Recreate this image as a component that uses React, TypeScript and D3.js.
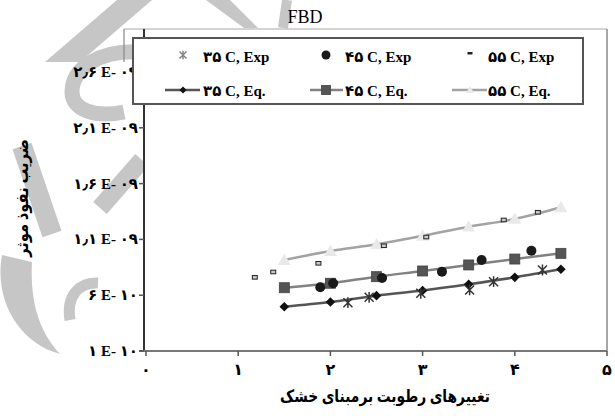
import React from "react";
import * as d3 from "d3";

// Moisture-change positions of the model (Eq.) curves
const xEq = [1.5, 2.0, 2.5, 3.0, 3.5, 4.0, 4.5];
const eq35 = [4.97e-10, 5.39e-10, 5.96e-10, 6.42e-10, 6.98e-10, 7.6e-10, 8.32e-10];
const eq45 = [6.67e-10, 7.07e-10, 7.66e-10, 8.17e-10, 8.71e-10, 9.24e-10, 9.75e-10];
const eq55 = [9.15e-10, 9.96e-10, 1.056e-9, 1.132e-9, 1.214e-9, 1.283e-9, 1.388e-9];

// Experimental points
const xExp35 = [2.19, 2.42, 2.98, 3.51, 3.77, 4.3];
const exp35 = [5.33e-10, 5.81e-10, 6.17e-10, 6.47e-10, 7.21e-10, 8.26e-10];
const xExp45 = [1.89, 2.03, 2.56, 3.21, 3.64, 4.18];
const exp45 = [6.71e-10, 7.07e-10, 7.54e-10, 8.11e-10, 9.15e-10, 9.99e-10];
const xExp55 = [1.18, 1.38, 1.87, 2.58, 3.04, 3.88, 4.25];
const exp55 = [7.6e-10, 8.08e-10, 8.86e-10, 1.043e-9, 1.121e-9, 1.274e-9, 1.343e-9];

const xTicks = [0, 1, 2, 3, 4, 5];
const xTickLabels = ["۰", "۱", "۲", "۳", "۴", "۵"];
const yTicks = [1e-10, 6e-10, 1.1e-9, 1.6e-9, 2.1e-9, 2.6e-9];
const yTickLabels = ["۱ E- ۱۰", "۶ E- ۱۰", "۱٫۱ E- ۰۹", "۱٫۶ E- ۰۹", "۲٫۱ E- ۰۹", "۲٫۶ E- ۰۹"];

const title = "FBD";
const xTitle = "تغییرهای رطوبت برمبنای خشک";
const yTitle = "ضریب نفوذ موثر";
const legendLabels = [
  ["۳۵ C, Exp", "۴۵ C, Exp", "۵۵ C, Exp"],
  ["۳۵ C, Eq.", "۴۵ C, Eq.", "۵۵ C, Eq."],
];

const W = 615;
const H = 416;
const plot = { left: 144, right: 607, top: 29, bottom: 351 };
const FONT = "'Liberation Serif', 'DejaVu Sans', serif";
const MARK = "#c6c6c6";

const x = d3.scaleLinear().domain([0, 5]).range([146, 607]);
const y = d3.scaleLinear().domain([1e-10, 2.6e-9]).range([351, 72]);

const line = d3
  .line<[number, number]>()
  .x((d) => x(d[0]))
  .y((d) => y(d[1]))
  .curve(d3.curveMonotoneX);

const zip = (xs: number[], ys: number[]) => xs.map((v, i) => [v, ys[i]] as [number, number]);

const Star = ({ cx, cy, s, color }: { cx: number; cy: number; s: number; color: string }) => (
  <path
    d={`M${cx - s},${cy - s}L${cx + s},${cy + s}M${cx - s},${cy + s}L${cx + s},${cy - s}M${cx},${cy - s * 1.2}L${cx},${cy + s * 1.2}`}
    stroke={color}
    strokeWidth={1.5}
    fill="none"
  />
);
const Diamond = ({ cx, cy, s }: { cx: number; cy: number; s: number }) => (
  <path d={`M${cx},${cy - s}L${cx + s},${cy}L${cx},${cy + s}L${cx - s},${cy}Z`} fill="#111" />
);
const Square = ({ cx, cy, s }: { cx: number; cy: number; s: number }) => (
  <rect x={cx - s} y={cy - s} width={2 * s} height={2 * s} fill="#555" stroke="#444" strokeWidth={0.8} />
);
const Tri = ({ cx, cy, s }: { cx: number; cy: number; s: number }) => (
  <path d={`M${cx},${cy - s}L${cx + s},${cy + s * 0.75}L${cx - s},${cy + s * 0.75}Z`} fill="#e9e9e9" />
);
const Dash = ({ cx, cy }: { cx: number; cy: number }) => (
  <rect x={cx - 2.5} y={cy - 1.8} width={5} height={3.6} fill="#c8c8c8" stroke="#222" strokeWidth={1} />
);

// Background calligraphic emblem behind the chart
const Emblem = () => (
  <g fill="none" stroke={MARK} strokeLinecap="butt">
    <path d="M45,62 L80,62 L152,0 L117,0 Z" fill={MARK} stroke="none" />
    <path d="M206,0 L230,0 L258,28 L244,28 Z" fill={MARK} stroke="none" />
    <path d="M287,0 L283,28" strokeWidth={10} />
    <path d="M140,52 C100,50 72,68 72,92 C72,110 95,118 124,112" strokeWidth={15} />
    <path d="M22,146 L52,234" strokeWidth={20} />
    <path d="M142,160 L100,208" strokeWidth={18} />
    <path d="M2,255 C-6,300 18,342 60,354 C38,330 30,300 32,262 Z" fill={MARK} stroke="none" />
    <path d="M98,283 C79,282 66,296 70,320" strokeWidth={11} />
  </g>
);

export default function App() {
  const lx = [183, 326, 470];
  const tx = [203, 345, 488];
  const ly = [57, 91];
  return (
    <svg
      width={W}
      height={H}
      style={{ position: "absolute", left: 0, top: 0, background: "#fff" }}
      fontFamily={FONT}
    >
      <rect width={W} height={H} fill="#fff" />
      <Emblem />
      <rect x={plot.left} y={plot.top} width={plot.right - plot.left} height={plot.bottom - plot.top} fill="#fff" />

      {/* chart frame */}
      <line x1={124} y1={plot.top} x2={plot.right} y2={plot.top} stroke="#aaa" strokeWidth={1.2} />
      <line x1={124} y1={plot.top} x2={124} y2={62} stroke="#888" strokeWidth={1.2} />
      <line x1={plot.right} y1={plot.top} x2={plot.right} y2={plot.bottom} stroke="#888" strokeWidth={1.5} />

      <text x={305} y={23} textAnchor="middle" fontSize={18} fill="#000">
        {title}
      </text>

      {/* axes */}
      <line x1={plot.left} y1={plot.top} x2={plot.left} y2={plot.bottom + 1} stroke="#333" strokeWidth={2} />
      <line x1={plot.left - 5} y1={plot.bottom} x2={plot.right} y2={plot.bottom} stroke="#777" strokeWidth={2} />
      {yTicks.map((t, i) => (
        <g key={"yt" + i}>
          <line x1={plot.left - 5} x2={plot.left} y1={y(t)} y2={y(t)} stroke="#555" strokeWidth={1.5} />
          <text x={138} y={y(t) + 5} textAnchor="end" fontSize={15} fontWeight="bold" fill="#000">
            {yTickLabels[i]}
          </text>
        </g>
      ))}
      {xTicks.map((t, i) => (
        <g key={"xt" + i}>
          <line x1={x(t)} x2={x(t)} y1={plot.bottom} y2={plot.bottom + 5} stroke="#555" strokeWidth={1.5} />
          <text x={x(t)} y={375} textAnchor="middle" fontSize={16} fontWeight="bold" fill="#000">
            {xTickLabels[i]}
          </text>
        </g>
      ))}
      <text
        x={385}
        y={402}
        textAnchor="middle"
        fontSize={17}
        fontWeight="bold"
        fill="#000"
        textLength={210}
        lengthAdjust="spacingAndGlyphs"
      >
        {xTitle}
      </text>
      <text
        transform={`translate(28,198) rotate(-90)`}
        textAnchor="middle"
        fontSize={17}
        fontWeight="bold"
        fill="#000"
        textLength={118}
        lengthAdjust="spacingAndGlyphs"
      >
        {yTitle}
      </text>

      {/* model curves */}
      <path d={line(zip(xEq, eq55)) || ""} fill="none" stroke="#a3a3a3" strokeWidth={2.5} />
      <path d={line(zip(xEq, eq45)) || ""} fill="none" stroke="#828282" strokeWidth={2.5} />
      <path d={line(zip(xEq, eq35)) || ""} fill="none" stroke="#555" strokeWidth={2.5} />
      {xEq.map((v, i) => (
        <Tri key={"t" + i} cx={x(v)} cy={y(eq55[i])} s={6.5} />
      ))}
      {xEq.map((v, i) => (
        <Square key={"s" + i} cx={x(v)} cy={y(eq45[i])} s={5} />
      ))}
      {xEq.map((v, i) => (
        <Diamond key={"d" + i} cx={x(v)} cy={y(eq35[i])} s={4.8} />
      ))}

      {/* experimental points */}
      {xExp55.map((v, i) => (
        <Dash key={"e55" + i} cx={x(v)} cy={y(exp55[i])} />
      ))}
      {xExp45.map((v, i) => (
        <circle key={"e45" + i} cx={x(v)} cy={y(exp45[i])} r={5} fill="#1a1a1a" />
      ))}
      {xExp35.map((v, i) => (
        <Star key={"e35" + i} cx={x(v)} cy={y(exp35[i])} s={4.5} color="#333" />
      ))}

      {/* legend */}
      <rect x={133} y={38} width={450} height={66} fill="#fff" stroke="#555" strokeWidth={2} />
      <Star cx={lx[0]} cy={ly[0] - 2} s={3.5} color="#888" />
      <circle cx={lx[1]} cy={ly[0] - 2} r={4.5} fill="#1a1a1a" />
      <rect x={lx[2] - 2.5} y={ly[0] - 5} width={5} height={2.5} fill="#222" />
      <line x1={165} x2={200} y1={ly[1] - 1} y2={ly[1] - 1} stroke="#555" strokeWidth={2.5} />
      <Diamond cx={lx[0]} cy={ly[1] - 1} s={3.5} />
      <line x1={310} x2={343} y1={ly[1] - 1} y2={ly[1] - 1} stroke="#828282" strokeWidth={2.5} />
      <Square cx={lx[1]} cy={ly[1] - 1} s={4.5} />
      <line x1={452} x2={487} y1={ly[1] - 1} y2={ly[1] - 1} stroke="#a3a3a3" strokeWidth={2.5} />
      <Tri cx={lx[2]} cy={ly[1] - 1} s={4} />
      {legendLabels.map((row, r) =>
        row.map((lab, c) => (
          <text key={"l" + r + c} x={tx[c]} y={ly[r] + 5} fontSize={15} fontWeight="bold" fill="#000">
            {lab}
          </text>
        ))
      )}
    </svg>
  );
}
